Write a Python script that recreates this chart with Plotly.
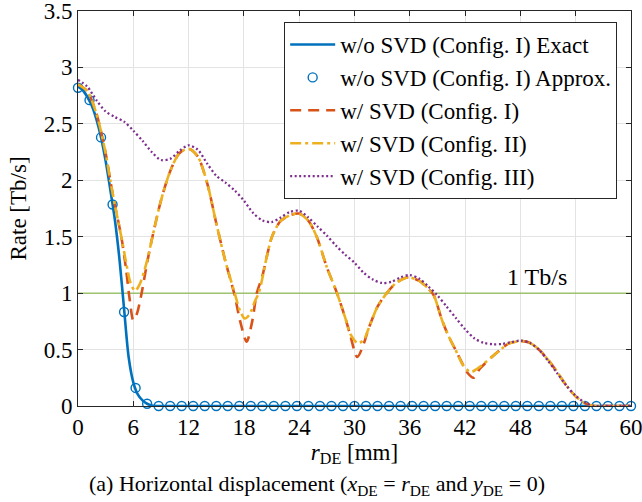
import plotly.graph_objects as go

# ---------------- data ----------------
# w/o SVD (Config. I) Exact
x_exact = [0, 0.5, 1, 1.5, 2, 2.5, 3, 3.5, 4, 4.5, 5, 5.5, 6, 6.5, 7, 7.5, 8, 9, 10, 20, 30, 40, 50, 60]
y_exact = [2.83, 2.80, 2.74, 2.66, 2.54, 2.38, 2.17, 1.92, 1.65, 1.30, 0.86, 0.43, 0.21, 0.10, 0.05, 0.02,
           0.005, 0.0, 0.0, 0.0, 0.0, 0.0, 0.0, 0.0]

# w/o SVD (Config. I) Approx.
x_approx = [i * 1.25 for i in range(49)]
y_approx = [2.82, 2.71, 2.38, 1.785, 0.833, 0.16, 0.02,
            0, 0, 0, 0, 0, 0, 0, 0, 0, 0, 0, 0, 0, 0, 0, 0, 0, 0, 0, 0, 0, 0,
            0, 0, 0, 0, 0, 0, 0, 0, 0, 0, 0, 0, 0, 0, 0, 0, 0, 0, 0, 0]

# w/ SVD (Config. I)
x_c1 = [0, 1, 2, 3, 3.5, 4, 4.7, 5.2, 5.6, 6.0, 6.4, 6.9, 7.5, 8, 9, 10, 11, 12, 13, 14, 15, 16, 17, 17.6,
        18.3, 18.9, 19.4, 20, 20.5, 21, 21.5, 22, 23, 24, 25, 25.9, 27, 28.1, 29, 29.5, 30.3, 31, 31.5, 32.5,
        33.5, 34.5, 35.5, 36, 37, 38, 38.6, 39.5, 40.2, 40.95, 41.8, 42.3, 42.9, 43.6, 44.9, 46, 46.7, 47.5,
        48.2, 49, 50, 51, 52, 53, 54, 55, 56, 57, 58, 59, 60]
y_c1 = [2.85, 2.79, 2.59, 2.24, 2.0, 1.78, 1.5, 1.22, 0.95, 0.76, 0.82, 1.0, 1.27, 1.47, 1.82, 2.08, 2.24,
        2.28, 2.21, 1.98, 1.62, 1.28, 0.98, 0.75, 0.57, 0.75, 1.0, 1.15, 1.33, 1.49, 1.58, 1.64, 1.69, 1.705,
        1.64, 1.5, 1.23, 1.0, 0.78, 0.64, 0.434, 0.55, 0.68, 0.88, 1.0, 1.09, 1.135, 1.14, 1.11, 1.04, 0.98,
        0.76, 0.62, 0.5, 0.36, 0.29, 0.25, 0.33, 0.434, 0.51, 0.553, 0.57, 0.575, 0.56, 0.5, 0.41, 0.3, 0.18,
        0.085, 0.025, 0.0, 0.0, 0.0, 0.0, 0.0]

# w/ SVD (Config. II)
x_c2 = [0, 1, 2, 3, 3.5, 4, 4.7, 5.2, 5.7, 6.2, 6.7, 7.2, 7.5, 8, 9, 10, 11, 12, 13, 14, 15, 16, 17, 17.6,
        18.1, 18.6, 19.2, 19.6, 20, 20.5, 21, 21.5, 22, 23, 24, 25, 25.9, 27, 28.1, 29, 29.6, 30.4, 31.1,
        31.5, 32.5, 33.5, 34.5, 35.5, 36, 37, 38, 38.6, 39.5, 40.2, 40.95, 41.8, 42.6, 43.3, 44.9, 46, 46.7,
        47.5, 48.2, 49, 50, 51, 52, 53, 54, 55, 56, 57, 58, 59, 60]
y_c2 = [2.85, 2.79, 2.59, 2.24, 2.0, 1.78, 1.5, 1.28, 1.09, 1.02, 1.08, 1.2, 1.29, 1.47, 1.82, 2.08, 2.24,
        2.28, 2.21, 1.98, 1.62, 1.28, 1.0, 0.84, 0.775, 0.81, 0.93, 1.0, 1.13, 1.33, 1.49, 1.58, 1.64, 1.69,
        1.705, 1.64, 1.5, 1.23, 1.0, 0.78, 0.63, 0.553, 0.6, 0.68, 0.88, 1.0, 1.09, 1.135, 1.14, 1.11, 1.04,
        0.98, 0.76, 0.62, 0.5, 0.36, 0.30, 0.33, 0.434, 0.51, 0.553, 0.57, 0.575, 0.56, 0.5, 0.41, 0.3, 0.18,
        0.085, 0.025, 0.0, 0.0, 0.0, 0.0, 0.0]

# w/ SVD (Config. III)
x_c3 = list(range(0, 61))
y_c3 = [2.89, 2.83, 2.71, 2.61, 2.56, 2.52, 2.44, 2.35, 2.25, 2.18, 2.19, 2.26, 2.31, 2.27, 2.15, 2.04,
        1.98, 1.91, 1.82, 1.71, 1.645, 1.63, 1.67, 1.72, 1.73, 1.67, 1.59, 1.51, 1.42, 1.34, 1.27, 1.18,
        1.12, 1.09, 1.10, 1.14, 1.16, 1.13, 1.06, 0.98, 0.88, 0.78, 0.68, 0.60, 0.56, 0.547, 0.55, 0.565,
        0.58, 0.56, 0.5, 0.4, 0.29, 0.18, 0.09, 0.03, 0.0, 0.0, 0.0, 0.0, 0.0]

# threshold
x_thr = [0, 60]
y_thr = [1, 1]

x_ticks = [0, 6, 12, 18, 24, 30, 36, 42, 48, 54, 60]
y_ticks = [0, 0.5, 1, 1.5, 2, 2.5, 3, 3.5]

FONT = "Liberation Serif"
AX = "#262626"

fig = go.Figure()

fig.add_trace(go.Scatter(x=x_thr, y=y_thr, mode="lines", line=dict(color="#77AC30", width=1),
                         showlegend=False, hoverinfo="skip"))
fig.add_trace(go.Scatter(x=x_exact, y=y_exact, mode="lines", name="w/o SVD (Config. I) Exact",
                         line=dict(color="#0072BD", width=2.6, shape="spline", smoothing=0.8)))
fig.add_trace(go.Scatter(x=x_approx, y=y_approx, mode="markers", name="w/o SVD (Config. I) Approx.",
                         marker=dict(symbol="circle-open", size=9, color="#0072BD",
                                     line=dict(width=1.4, color="#0072BD")),
                         cliponaxis=False))
fig.add_trace(go.Scatter(x=x_c1, y=y_c1, mode="lines", name="w/ SVD (Config. I)",
                         line=dict(color="#D95319", width=2.6, dash="11px,7px", shape="spline", smoothing=0.8)))
fig.add_trace(go.Scatter(x=x_c2, y=y_c2, mode="lines", name="w/ SVD (Config. II)",
                         line=dict(color="#EDB120", width=2.6, dash="11px,4px,3px,4px", shape="spline",
                                   smoothing=0.8)))
fig.add_trace(go.Scatter(x=x_c3, y=y_c3, mode="lines", name="w/ SVD (Config. III)",
                         line=dict(color="#7E2F8E", width=2.3, dash="2px,2.5px", shape="spline", smoothing=0.8)))

fig.add_annotation(x=49.8, y=1.14, xref="x", yref="y", text="1 Tb/s", showarrow=False,
                   font=dict(family=FONT, size=24, color="#000000"))
fig.add_annotation(x=(317 - 78) / 553, y=-0.2, xref="paper", yref="paper", showarrow=False,
                   text="(a) Horizontal displacement (<i>x</i><sub>DE</sub>&#8197;=&#8197;<i>r</i><sub>DE</sub> and "
                        "<i>y</i><sub>DE</sub>&#8197;=&#8197;0)",
                   font=dict(family=FONT, size=22, color="#000000"), xanchor="center", yanchor="middle")

axis_common = dict(showline=True, linecolor=AX, linewidth=1, mirror="ticks", ticks="inside", ticklen=5,
                   tickcolor=AX, showgrid=True, gridcolor="#e3e3e3", gridwidth=1, zeroline=False,
                   ticklabeloverflow="allow", automargin=False,
                   tickfont=dict(family=FONT, size=23, color="#000000"))

fig.update_xaxes(range=[0, 60], tickvals=x_ticks, **axis_common,
                 title=dict(text="<i>r</i><sub>DE</sub> [mm]", font=dict(family=FONT, size=23, color="#000000"),
                            standoff=4))
fig.update_yaxes(range=[0, 3.5], tickvals=y_ticks, **axis_common,
                 title=dict(text="Rate [Tb/s]", font=dict(family=FONT, size=23, color="#000000"),
                            standoff=10))

fig.update_layout(
    width=642, height=502,
    margin=dict(l=78, r=11, t=11, b=96, autoexpand=False),
    paper_bgcolor="white", plot_bgcolor="white",
    font=dict(family=FONT, color="#000000"),
    legend=dict(x=0.975, xanchor="right", y=0.972, yanchor="top", bgcolor="white",
                bordercolor=AX, borderwidth=1, font=dict(family=FONT, size=23, color="#000000"),
                itemwidth=45, tracegroupgap=0),
)

fig.write_html("out.html")
